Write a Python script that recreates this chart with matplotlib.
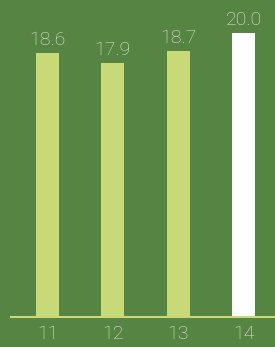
import matplotlib
matplotlib.use("Agg")
import matplotlib.pyplot as plt

categories = ["11", "12", "13", "14"]
values = [18.6, 17.9, 18.7, 20.0]
value_labels = ["18.6", "17.9", "18.7", "20.0"]

bg = "#568442"
bar_green = "#c8da78"
text_col = "#e3e8dc"

plt.rcParams['font.family'] = ['Roboto', 'DejaVu Sans']

fig = plt.figure(figsize=(2.75, 3.47), dpi=100)
fig.patch.set_facecolor(bg)
ax = fig.add_axes([0.04, 0.0865, 0.96, 0.9135])
ax.set_facecolor(bg)

colors = [bar_green, bar_green, bar_green, "white"]
x = range(len(categories))
bars = ax.bar(x, values, width=0.352, color=colors, zorder=2)

for b, lab in zip(bars, value_labels):
    ax.annotate(lab, (b.get_x() + b.get_width() / 2, b.get_height()),
                xytext=(0, 5.8), textcoords="offset points",
                ha="center", va="baseline", fontsize=14, color=text_col,
                fontweight="light")

ax.set_xlim(-0.559, 3.482)
ax.set_ylim(0, 22.32)
ax.set_xticks(list(x))
ax.set_xticklabels(categories, fontsize=14, color=text_col, fontweight="light")
ax.tick_params(axis="x", length=0, pad=6)
ax.set_yticks([])
for s in ["top", "right", "left"]:
    ax.spines[s].set_visible(False)
ax.spines["bottom"].set_color(bar_green)
ax.spines["bottom"].set_linewidth(1.5)
ax.spines["bottom"].set_zorder(3)

fig.savefig("out.png", dpi=100, facecolor=bg)
